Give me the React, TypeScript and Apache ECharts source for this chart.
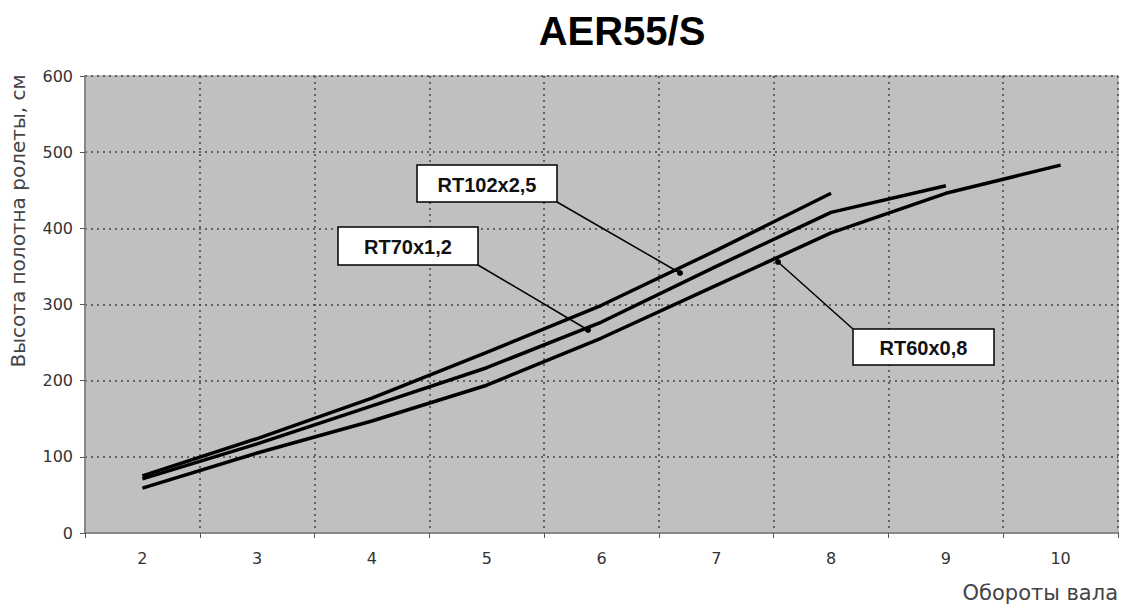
import React, { useEffect, useRef } from "react";
import * as echarts from "echarts";

const categories = ["2", "3", "4", "5", "6", "7", "8", "9", "10"];
const rt102 = [75, 124, 177, 237, 299, 371, 446];
const rt70 = [71, 117, 167, 217, 277, 350, 421, 456];
const rt60 = [59, 105, 147, 194, 256, 325, 394, 446, 483];
const yTicks = { min: 0, max: 600, interval: 100 };
const titleText = "AER55/S";
const yName = "Высота полотна ролеты, см";
const xName = "Обороты вала";

export default function App() {
  const ref = useRef<HTMLDivElement>(null);
  useEffect(() => {
    document.body.style.margin = "0";
    const chart = echarts.init(ref.current!, undefined, { renderer: "svg" });
    const lineStyle = { color: "#000", width: 3.5 };
    const mkSeries = (name: string, data: number[]) => ({
      name,
      type: "line",
      data,
      showSymbol: false,
      symbol: "none",
      lineStyle,
      itemStyle: { color: "#000" },
    });
    const box = (x: number, y: number, w: number, h: number, text: string) => [
      {
        type: "rect",
        shape: { x, y, width: w, height: h },
        style: { fill: "#fff", stroke: "#000", lineWidth: 1.5 },
        z: 100,
      },
      {
        type: "text",
        x: x + w / 2,
        y: y + h / 2 + 1,
        style: {
          text,
          fill: "#111",
          font: "bold 20px 'Liberation Sans', Arial, sans-serif",
          align: "center",
          verticalAlign: "middle",
        },
        z: 101,
      },
    ];
    const leader = (x1: number, y1: number, x2: number, y2: number) => [
      {
        type: "line",
        shape: { x1, y1, x2, y2 },
        style: { stroke: "#000", lineWidth: 1.5 },
        z: 99,
      },
      {
        type: "circle",
        shape: { cx: x2, cy: y2, r: 3 },
        style: { fill: "#000" },
        z: 99,
      },
    ];
    chart.setOption({
      animation: false,
      backgroundColor: "#fff",
      grid: {
        left: 85,
        top: 76,
        right: 3,
        bottom: 75,
        show: true,
        backgroundColor: "#c0c0c0",
        borderColor: "#999",
        borderWidth: 1,
      },
      xAxis: {
        type: "category",
        data: categories,
        boundaryGap: true,
        axisLine: { lineStyle: { color: "#888", width: 2 } },
        axisTick: { show: true, length: 5, lineStyle: { color: "#555" } },
        axisLabel: {
          margin: 17,
          color: "#333",
          fontSize: 16,
          fontFamily: "'DejaVu Sans', sans-serif",
        },
        splitLine: {
          show: true,
          lineStyle: { color: "#444", type: [2, 4], width: 1.5 },
        },
      },
      yAxis: {
        type: "value",
        min: yTicks.min,
        max: yTicks.max,
        interval: yTicks.interval,
        axisLine: { show: true, lineStyle: { color: "#888", width: 2 } },
        axisTick: { show: true, length: 5, lineStyle: { color: "#555" } },
        axisLabel: {
          margin: 12,
          color: "#333",
          fontSize: 16,
          fontFamily: "'DejaVu Sans', sans-serif",
        },
        splitLine: {
          show: true,
          lineStyle: { color: "#444", type: [2, 4], width: 1.5 },
        },
      },
      series: [
        mkSeries("RT102x2,5", rt102),
        mkSeries("RT70x1,2", rt70),
        mkSeries("RT60x0,8", rt60),
      ],
      graphic: [
        {
          type: "text",
          x: 622,
          y: 31,
          style: {
            text: titleText,
            fill: "#000",
            font: "bold 40px 'Liberation Sans', Arial, sans-serif",
            align: "center",
            verticalAlign: "middle",
          },
        },
        {
          type: "text",
          x: 18,
          y: 221,
          rotation: Math.PI / 2,
          style: {
            text: yName,
            fill: "#444",
            font: "20px 'DejaVu Sans', sans-serif",
            align: "center",
            verticalAlign: "middle",
          },
        },
        {
          type: "text",
          x: 1118,
          y: 593,
          style: {
            text: xName,
            fill: "#444",
            font: "21px 'DejaVu Sans', sans-serif",
            align: "right",
            verticalAlign: "middle",
          },
        },
        ...leader(557, 202, 680, 273),
        ...leader(478, 265, 588, 330),
        ...leader(853, 329, 778, 262),
        ...box(417, 165, 140, 37, "RT102x2,5"),
        ...box(338, 227, 140, 38, "RT70x1,2"),
        ...box(853, 329, 141, 36, "RT60x0,8"),
      ],
    });
    return () => chart.dispose();
  }, []);
  return (
    <div
      ref={ref}
      style={{ position: "fixed", left: 0, top: 0, width: 1121, height: 608 }}
    />
  );
}
